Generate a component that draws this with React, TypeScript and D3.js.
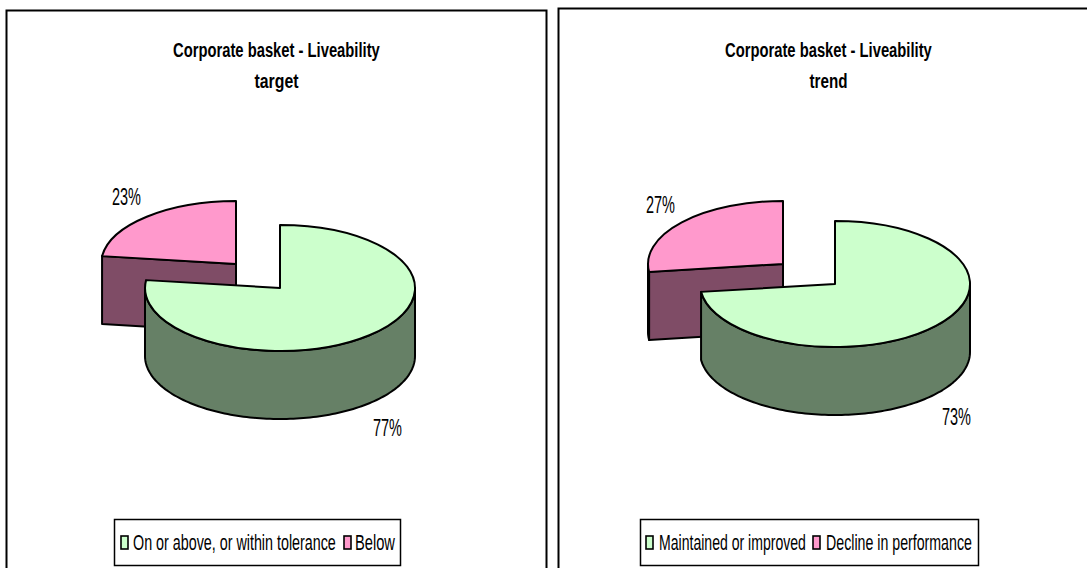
import React from "react";
import * as d3 from "d3";

const titleLine = "Corporate basket - Liveability";
const subtitles = ["target", "trend"];
const leftCategories = ["On or above, or within tolerance", "Below"];
const rightCategories = ["Maintained or improved", "Decline in performance"];
const leftValues = [77, 23];
const rightValues = [73, 27];

const FONT = "'Liberation Sans', Arial, sans-serif";
const GREEN = "#ccffcc", PINK = "#ff99cc", GREEN_D = "#668066", PINK_D = "#7f4c66";
const RX = 135, RY = 63, DEPTH = 68;

type Layout = {
  frame: [number, number, number, number];
  titleW: number; titleX: number; subW: number;
  big: [number, number]; small: [number, number];
  labels: [number, number][];
  legend: [number, number, number, number];
  sw: number[]; txt: [number, number][];
};

const pt = (c: [number, number], a: number, dy = 0): [number, number] => [
  c[0] + RX * Math.sin(a), c[1] - RY * Math.cos(a) + dy,
];

function sample(a0: number, a1: number): number[] {
  const n = Math.max(2, Math.ceil(Math.abs(a1 - a0) * 40));
  return d3.range(n + 1).map((i) => a0 + ((a1 - a0) * i) / n);
}

const line = d3.line();
const ctx = document.createElement("canvas").getContext("2d")!;

function Pie3D({ c, start, end, fill, dark }: { c: [number, number]; start: number; end: number; fill: string; dark: string }) {
  const stroke = { stroke: "#000", strokeWidth: 2, strokeLinejoin: "round" as const };
  const top = d3.arc()({ innerRadius: 0, outerRadius: 1, startAngle: start, endAngle: end } as any) as string;
  const wallA0 = Math.max(start, Math.PI / 2);
  const wallA1 = Math.min(end, (3 * Math.PI) / 2);
  const angles = sample(wallA0, wallA1);
  const wall = wallA1 > wallA0
    ? [...angles.map((a) => pt(c, a)), ...angles.slice().reverse().map((a) => pt(c, a, DEPTH))]
    : null;
  const showCut = start > Math.PI;
  const cut: [number, number][] = [
    [c[0], c[1]], pt(c, start), pt(c, start, DEPTH), [c[0], c[1] + DEPTH],
  ];
  return (
    <g>
      {showCut && <path d={line(cut)! + "Z"} fill={dark} {...stroke} />}
      {wall && <path d={line(wall)! + "Z"} fill={dark} {...stroke} />}
      <path d={top} transform={`translate(${c[0]},${c[1]}) scale(${RX},${RY})`} fill={fill} stroke="#000" strokeWidth={2} vectorEffect="non-scaling-stroke" strokeLinejoin="round" />
    </g>
  );
}

function Squeezed({ x, y, w, size, bold, children }: any) {
  const str = Array.isArray(children) ? children.join("") : String(children);
  const weight = bold ? 700 : 400;
  ctx.font = `${weight} ${size}px ${FONT}`;
  const k = w / ctx.measureText(str).width;
  return (
    <text transform={`translate(${x},${y}) scale(${k},1)`} fontFamily={FONT} fontSize={size} fontWeight={weight} fill="#000">{str}</text>
  );
}

function Panel({ values, cats, sub, L }: { values: number[]; cats: string[]; sub: string; L: Layout }) {
  const arcs = d3.pie<number>().sort(null)(values);
  const [a, b] = arcs;
  const [lx, ly, lw, lh] = L.legend;
  return (
    <g>
      <rect x={L.frame[0]} y={L.frame[1]} width={L.frame[2]} height={L.frame[3]} fill="#fff" stroke="#000" strokeWidth={2} />
      <Squeezed x={L.titleX} y={57} w={L.titleW} size={21} bold>{titleLine}</Squeezed>
      <Squeezed x={L.titleX + L.titleW / 2 - L.subW / 2} y={88} w={L.subW} size={21} bold>{sub}</Squeezed>
      <Pie3D c={L.small} start={b.startAngle} end={b.endAngle} fill={PINK} dark={PINK_D} />
      <Pie3D c={L.big} start={a.startAngle} end={a.endAngle} fill={GREEN} dark={GREEN_D} />
      <Squeezed x={L.labels[0][0]} y={L.labels[0][1]} w={29} size={23}>{`${values[0]}%`}</Squeezed>
      <Squeezed x={L.labels[1][0]} y={L.labels[1][1]} w={29} size={23}>{`${values[1]}%`}</Squeezed>
      <rect x={lx} y={ly} width={lw} height={lh} fill="#fff" stroke="#000" strokeWidth={1.5} />
      {cats.map((cat, i) => (
        <g key={cat}>
          <rect x={L.sw[i]} y={536} width={7} height={13} fill={i === 0 ? GREEN : PINK} stroke="#000" strokeWidth={1.6} />
          <Squeezed x={L.txt[i][0]} y={550} w={L.txt[i][1]} size={22}>{cat}</Squeezed>
        </g>
      ))}
    </g>
  );
}

const leftLayout: Layout = {
  frame: [6.5, 10.5, 540, 570], titleW: 207, titleX: 173, subW: 44,
  big: [280, 288], small: [236, 264],
  labels: [[373, 436], [112, 205]],
  legend: [114.5, 519.5, 286, 46], sw: [121, 344], txt: [[133, 203], [355, 40]],
};
const rightLayout: Layout = {
  frame: [558.5, 8.5, 540, 572], titleW: 207, titleX: 725, subW: 38,
  big: [835, 284], small: [783, 264],
  labels: [[942, 425], [646, 213]],
  legend: [640.5, 519.5, 338, 46], sw: [646, 813], txt: [[659, 147], [826, 146]],
};

export default function App() {
  return (
    <svg width={1087} height={568} style={{ position: "absolute", left: 0, top: 0 }}>
      <rect width={1087} height={568} fill="#fff" />
      <Panel values={leftValues} cats={leftCategories} sub={subtitles[0]} L={leftLayout} />
      <Panel values={rightValues} cats={rightCategories} sub={subtitles[1]} L={rightLayout} />
    </svg>
  );
}
